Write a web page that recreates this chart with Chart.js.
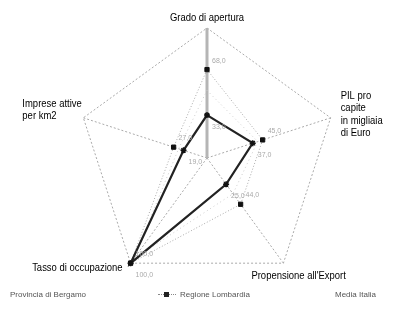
<!DOCTYPE html>
<html>
<head>
<meta charset="utf-8">
<script src="https://cdn.jsdelivr.net/npm/chart.js@4.4.1/dist/chart.umd.min.js"></script>
<style>
  html, body { margin: 0; padding: 0; background: #fff; }
  #wrap { position: relative; width: 404px; height: 309px; }
  #legend {
    position: absolute; left: 0; top: 290px; width: 404px; height: 14px;
    font: 8px "Liberation Sans", sans-serif; color: #555;
  }
  .lg { position: absolute; top: 0; white-space: nowrap; display: flex; align-items: center; }
  .sw { display: inline-block; width: 18px; height: 6px; position: relative; margin-right: 4px; }
  .sw i { position: absolute; left: 0; right: 0; top: 2px; border-top: 1px dotted #888; }
  .sw b { position: absolute; left: 6px; top: 0; width: 5px; height: 5px; background: #222; }
</style>
</head>
<body>
<div id="wrap">
  <canvas id="radar" width="404" height="309"></canvas>
  <div id="legend"></div>
</div>
<script>
// --- DATI ---
const assi = ['Grado di apertura', 'PIL pro capite in migliaia di Euro', "Propensione all'Export", 'Tasso di occupazione', 'Imprese attive per km2'];
const righeEtichette = [
    ['Grado di apertura'],
    ['PIL pro', 'capite', 'in migliaia', 'di Euro'],
    ["Propensione all'Export"],
    ['Tasso di occupazione'],
    ['Imprese attive', 'per km2']
];
const serieNomi = ['Provincia di Bergamo', 'Regione Lombardia', 'Media Italia'];
const provincia = [33, 37, 25, 100, 19];
const regione = [68, 45, 44, 100, 27];
const italia = [52, 41, 34, 96, 23];

// --- ETICHETTE DEGLI ASSI (disegnate sui vertici della scala) ---
const etichetteAssi = {
    id: 'etichetteAssi',
    afterDraw(chart) {
        const ctx = chart.ctx;
        const r = chart.scales.r;
        ctx.save();
        ctx.fillStyle = '#000';
        ctx.font = '11px "Liberation Sans", sans-serif';
        ctx.textBaseline = 'middle';
        righeEtichette.forEach((righe, i) => {
            const p = r.getPointPosition(i, r.drawingArea);
            let x = p.x, y = p.y, lh = 12.5;
            if (i === 0) { ctx.textAlign = 'center'; y -= 10; }
            if (i === 1) { ctx.textAlign = 'left'; x += 10; y -= 22; }
            if (i === 2) { ctx.textAlign = 'left'; x -= 32; y += 13; }
            if (i === 3) { ctx.textAlign = 'right'; x -= 8; y += 5; }
            if (i === 4) { ctx.textAlign = 'left'; x -= 61; y -= 14; }
            righe.forEach((t, k) => {
                ctx.save();
                ctx.translate(x, y + k * lh);
                ctx.scale(0.86, 1);   // carattere stretto come nell'originale
                ctx.fillText(t, 0, 0);
                ctx.restore();
            });
        });
        ctx.restore();
    }
};

// --- VALORI VICINO AI PUNTI ---
const valoriPunti = {
    id: 'valoriPunti',
    afterDatasetsDraw(chart) {
        const ctx = chart.ctx;
        ctx.save();
        ctx.fillStyle = '#aaa';
        ctx.font = '7px "Liberation Sans", sans-serif';
        ctx.textAlign = 'left';
        ctx.textBaseline = 'middle';
        chart.data.datasets.forEach((ds, d) => {
            if (d === 2) return;
            chart.getDatasetMeta(d).data.forEach((pt, i) => {
                const dy = d === 0 ? 12 : -9;
                ctx.fillText(ds.data[i].toFixed(1).replace('.', ','), pt.x + 5, pt.y + dy);
            });
        });
        ctx.restore();
    }
};

new Chart(document.getElementById('radar'), {
    type: 'radar',
    data: {
        labels: assi,
        datasets: [
            {
                label: serieNomi[0],
                data: provincia,
                borderColor: '#222',
                borderWidth: 2.2,
                pointStyle: 'star',
                pointRadius: 3,
                pointBorderWidth: 1.5,
                pointBorderColor: '#111',
                pointBackgroundColor: '#111',
                fill: false
            },
            {
                label: serieNomi[1],
                data: regione,
                borderColor: '#aaa',
                borderWidth: 1,
                borderDash: [1, 2],
                pointStyle: 'rect',
                pointRadius: 3,
                pointBorderColor: '#111',
                pointBackgroundColor: '#111',
                fill: false
            },
            {
                label: serieNomi[2],
                data: italia,
                borderColor: '#ccc',
                borderWidth: 1,
                borderDash: [1, 3],
                pointRadius: 0,
                fill: false
            }
        ]
    },
    options: {
        responsive: false,
        animation: false,
        layout: { padding: { left: 10, right: 0, top: 28, bottom: 21 } },
        plugins: { legend: { display: false }, tooltip: { enabled: false } },
        scales: {
            r: {
                min: 0,
                max: 100,
                ticks: { display: false, stepSize: 100 },
                pointLabels: { display: false },
                grid: { color: '#aaa', lineWidth: 1 },
                border: { dash: [2, 2] },
                angleLines: {
                    color: ctx => ctx.index === 0 ? '#b5b5b5' : '#aaa',
                    lineWidth: ctx => ctx.index === 0 ? 3 : 1,
                    borderDash: ctx => ctx.index === 0 ? [] : [2, 2]
                }
            }
        }
    },
    plugins: [etichetteAssi, valoriPunti]
});

// --- LEGENDA ---
const leg = document.getElementById('legend');
const posLeg = [10, 158, 335];
serieNomi.forEach((n, i) => {
    const el = document.createElement('div');
    el.className = 'lg';
    el.style.left = posLeg[i] + 'px';
    const sw = i === 1 ? '<span class="sw"><i></i><b></b></span>' : '';
    el.innerHTML = sw + n;
    leg.appendChild(el);
});
</script>
</body>
</html>
